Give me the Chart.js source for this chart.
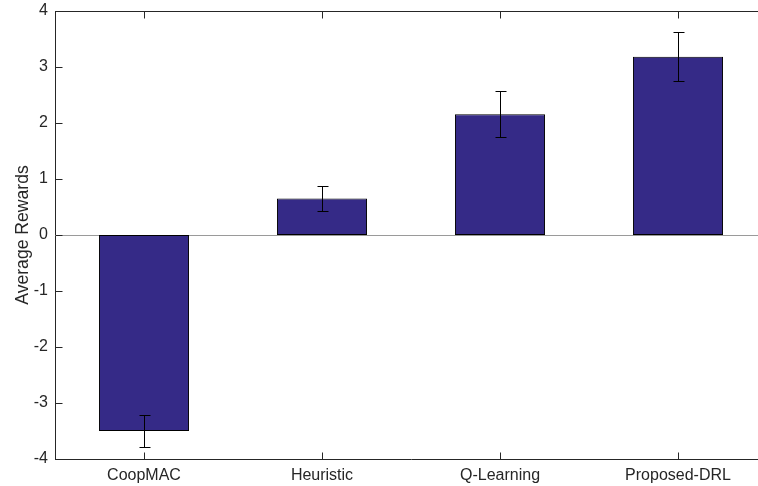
<!DOCTYPE html>
<html>
<head>
<meta charset="utf-8">
<script src="https://cdn.jsdelivr.net/npm/chart.js@4/dist/chart.umd.min.js"></script>
<style>
  html, body { margin: 0; padding: 0; background: #fff; overflow: hidden; }
  #wrap { position: absolute; left: 0; top: 0; width: 768px; height: 486px; }
</style>
</head>
<body>
<div id="wrap"><canvas id="c"></canvas></div>
<script>
const categories = ['CoopMAC', 'Heuristic', 'Q-Learning', 'Proposed-DRL'];
const rewards = [-3.5, 0.65, 2.155, 3.185];
const errors = [0.285, 0.223, 0.41, 0.435];
const yMin = -4, yMax = 4, yStep = 1;

const axisColor = '#262626';
const FONT = 'Liberation Sans, Arial, Helvetica, sans-serif';

const decorPlugin = {
  id: 'decor',
  beforeDatasetsDraw(chart) {
    const ctx = chart.ctx, a = chart.chartArea, y = chart.scales.y;
    const y0 = Math.round(y.getPixelForValue(0)) + 0.5;
    ctx.save();
    ctx.strokeStyle = '#9a9a9a';
    ctx.lineWidth = 1;
    ctx.beginPath();
    ctx.moveTo(a.left, y0);
    ctx.lineTo(a.right, y0);
    ctx.stroke();
    ctx.restore();
  },
  afterDatasetsDraw(chart) {
    const ctx = chart.ctx, y = chart.scales.y;
    const meta = chart.getDatasetMeta(0);
    ctx.save();
    ctx.strokeStyle = '#000';
    ctx.lineWidth = 1;
    meta.data.forEach((bar, i) => {
      const x = Math.round(bar.x) + 0.5;
      const yt = Math.round(y.getPixelForValue(rewards[i] + errors[i])) + 0.5;
      const yb = Math.round(y.getPixelForValue(rewards[i] - errors[i])) + 0.5;
      ctx.beginPath();
      ctx.moveTo(x, yt); ctx.lineTo(x, yb);
      ctx.moveTo(x - 5, yt); ctx.lineTo(x + 6, yt);
      ctx.moveTo(x - 5, yb); ctx.lineTo(x + 6, yb);
      ctx.stroke();
    });
    ctx.restore();
  },
  afterDraw(chart) {
    const ctx = chart.ctx, a = chart.chartArea, xs = chart.scales.x, ys = chart.scales.y;
    ctx.save();
    ctx.strokeStyle = axisColor;
    ctx.lineWidth = 1;
    ctx.beginPath();
    const top = Math.round(a.top) + 0.5;
    ctx.moveTo(a.left, top); ctx.lineTo(a.right, top);
    const left = Math.round(a.left) + 0.5;
    ys.ticks.forEach((t, i) => {
      const py = Math.round(ys.getPixelForTick(i)) + 0.5;
      ctx.moveTo(left, py); ctx.lineTo(left + 7, py);
    });
    const bottom = Math.round(a.bottom) + 0.5;
    xs.ticks.forEach((t, i) => {
      const px = Math.round(xs.getPixelForTick(i)) + 0.5;
      ctx.moveTo(px, bottom); ctx.lineTo(px, bottom - 7);
      ctx.moveTo(px, top); ctx.lineTo(px, top + 7);
    });
    ctx.stroke();
    ctx.restore();
  }
};

new Chart(document.getElementById('c'), {
  type: 'bar',
  data: {
    labels: categories,
    datasets: [{
      data: rewards,
      backgroundColor: '#352A87',
      borderColor: '#000000',
      borderWidth: 1,
      borderSkipped: false,
      barPercentage: 0.506,
      categoryPercentage: 1.0
    }]
  },
  options: {
    responsive: true,
    maintainAspectRatio: false,
    animation: false,
    layout: { padding: { top: 11, right: 1, left: 0, bottom: 0 } },
    plugins: { legend: { display: false }, tooltip: { enabled: false } },
    scales: {
      x: {
        grid: { display: false, drawTicks: false },
        border: { display: true, color: axisColor, width: 1 },
        ticks: { color: axisColor, font: { family: FONT, size: 16 }, padding: 7, maxRotation: 0 },
        afterFit(s) { s.height = 27; s.paddingLeft = 0; s.paddingRight = 0; }
      },
      y: {
        min: yMin, max: yMax,
        grid: { display: false, drawTicks: false },
        border: { display: true, color: axisColor, width: 1 },
        ticks: { stepSize: yStep, color: axisColor, font: { family: FONT, size: 16 }, padding: 7 },
        title: { display: true, text: 'Average Rewards', color: axisColor, font: { family: FONT, size: 17.6 }, padding: { top: 13, bottom: 0 } },
        afterFit(s) { s.width = 55; s.paddingTop = 0; s.paddingBottom = 0; }
      }
    }
  },
  plugins: [decorPlugin]
});
</script>
</body>
</html>
